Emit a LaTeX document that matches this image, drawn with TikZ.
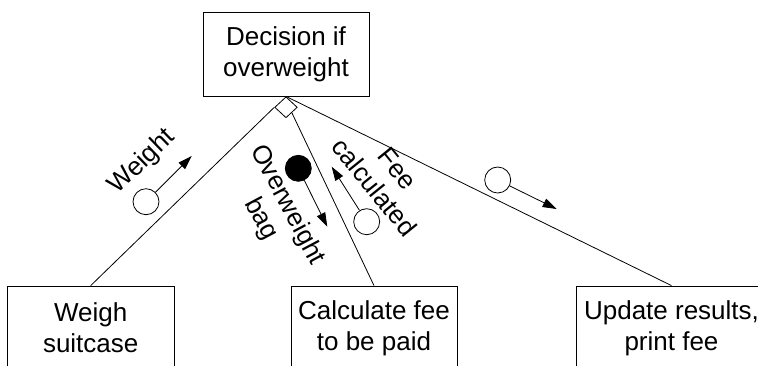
\documentclass[tikz,border=0pt]{standalone}
\usepackage{fontspec}
\setmainfont{Liberation Sans}
\usetikzlibrary{shapes.geometric,arrows.meta}
\begin{document}
\begin{tikzpicture}[x=1pt,y=-1pt,
  box/.style={draw,line width=0.8pt,align=center,inner sep=0pt,font=\fontsize{26}{31}\selectfont},
  lbl/.style={align=center,inner sep=0pt,font=\fontsize{26}{30}\selectfont},
  conn/.style={line width=0.8pt},
  tok/.style={circle,draw,line width=0.8pt,minimum size=26pt,inner sep=0pt},
  flow/.style={line width=0.8pt,-{Triangle[length=14pt,width=9pt]}},
]
\clip (0,0) rectangle (758,365);
% boxes
\node[box,minimum width=166pt,minimum height=84pt] (dec) at (286,54) {Decision if\\overweight};
\node[draw,diamond,line width=0.8pt,minimum width=22.6pt,minimum height=21pt,inner sep=0pt,anchor=north] (dm) at (dec.south) {};
\node[box,minimum width=167pt,minimum height=84pt] (weigh) at (90.7,328) {Weigh\\suitcase};
\node[box,minimum width=166pt,minimum height=84pt] (calc) at (374,328) {Calculate fee\\to be paid};
\node[box,minimum width=191pt,minimum height=84pt] (upd) at (671.5,328) {Update results,\\print fee};
% connectors
\draw[conn] (dm.west) -- (weigh.north);
\draw[conn] (dm.south east) -- (calc.north);
\draw[conn] (dm.north) -- (upd.north);
% labels
\node[lbl,rotate=44] (wl) at (142,162) {Weight};
\node[lbl,rotate=-62] (ol) at (274,212) {Overweight\\bag};
\node[lbl,rotate=-51] (fl) at (386,178) {Fee\\calculated};
% tokens
\node[tok] (t1) at (146,201.7) {};
\coordinate (a1) at (191.7,156);
\draw[flow] (t1) -- (a1);
\node[tok,fill=black] (t2) at (298.3,168.3) {};
\coordinate (a2) at (327.3,226.7);
\draw[flow] (t2) -- (a2);
\node[tok] (t3) at (366.7,221.7) {};
\coordinate (a3) at (331.7,166.7);
\draw[flow] (t3) -- (a3);
\node[tok] (t4) at (497.7,180) {};
\coordinate (a4) at (556.7,209);
\draw[flow] (t4) -- (a4);
\end{tikzpicture}
\end{document}
